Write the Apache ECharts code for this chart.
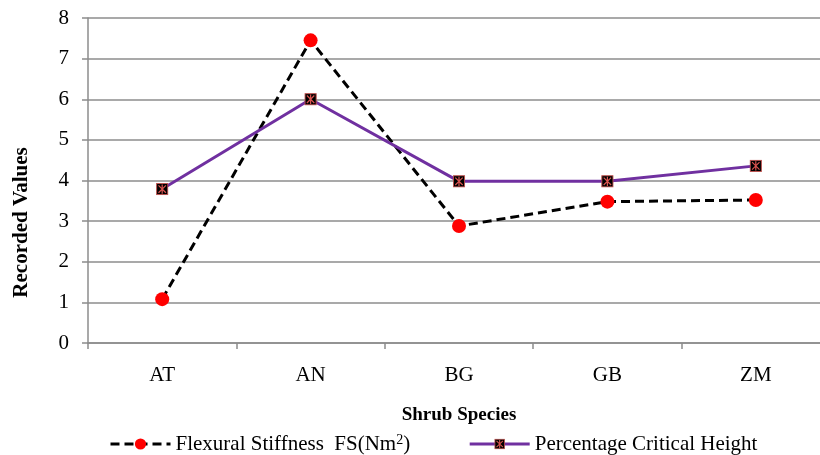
<!DOCTYPE html>
<html>
<head>
<meta charset="utf-8">
<script src="https://cdn.jsdelivr.net/npm/echarts@6/dist/echarts.min.js"></script>
<style>
  html, body { margin: 0; padding: 0; background: #fff; overflow: hidden; }
  /* plot runs past the right edge in the reference, so the canvas is a bit wider than the window */
  #chart { width: 832px; height: 455px; }
</style>
</head>
<body>
<div id="chart"></div>
<script>
// data
const species = ['AT', 'AN', 'BG', 'GB', 'ZM']
const flexuralStiffness = [1.08, 7.45, 2.88, 3.48, 3.52]
const criticalHeight = [3.79, 6.0, 3.98, 3.98, 4.36]
const yTicks = [0, 1, 2, 3, 4, 5, 6, 7, 8]

const font = 'Liberation Serif'

// black square with red cross
const crossSvg = '<svg xmlns="http://www.w3.org/2000/svg" width="14" height="14">' +
  '<rect x="1" y="1" width="12" height="12" fill="#000" stroke="#c0504d" stroke-width="1"/>' +
  '<path d="M3 3 L11 11 M11 3 L3 11 M7 2 L7 12" stroke="#d9534f" stroke-width="1.3"/></svg>'
const crossSymbol = 'image://data:image/svg+xml;charset=utf-8,' + encodeURIComponent(crossSvg)

const chart = echarts.init(document.getElementById('chart'))

chart.setOption({
  animation: false,
  textStyle: { fontFamily: font },
  grid: {
    left: 88,
    right: 2,
    top: 18,
    bottom: 112
  },
  legend: {
    top: 428,
    left: 104,
    itemWidth: 60,
    itemHeight: 14,
    itemGap: 58,
    textStyle: {
      fontFamily: font,
      fontSize: 21,
      color: '#000',
      rich: {
        t: { fontFamily: font, fontSize: 21, color: '#000' },
        sup: { fontFamily: font, fontSize: 14, color: '#000', verticalAlign: 'top', padding: [0, 0, 8, 0] }
      }
    },
    formatter: function (name) {
      if (name.indexOf('Flexural') === 0) {
        return '{t|Flexural Stiffness  FS(Nm}{sup|2}{t|)}'
      }
      return '{t|' + name + '}'
    },
    data: [
      { name: 'Flexural Stiffness  FS(Nm2)', lineStyle: { width: 3, type: [9, 5] } },
      { name: 'Percentage Critical Height', lineStyle: { width: 3 } }
    ]
  },
  xAxis: {
    type: 'category',
    data: species,
    name: 'Shrub Species',
    nameLocation: 'middle',
    nameGap: 63,
    nameTextStyle: { fontFamily: font, fontSize: 19, fontWeight: 'bold', color: '#000' },
    axisLine: { lineStyle: { color: '#8c8c8c', width: 1.5 } },
    axisTick: { show: true, length: 6, interval: 0, lineStyle: { color: '#8c8c8c', width: 1.5 } },
    axisLabel: { fontFamily: font, fontSize: 21, color: '#000', margin: 22 }
  },
  yAxis: {
    type: 'value',
    min: yTicks[0],
    max: yTicks[yTicks.length - 1],
    interval: 1,
    name: 'Recorded Values',
    nameLocation: 'middle',
    nameGap: 56,
    nameTextStyle: { fontFamily: font, fontSize: 21, fontWeight: 'bold', color: '#000', padding: [0, 84, 0, 0] },
    axisLine: { show: true, lineStyle: { color: '#8c8c8c', width: 1.5 } },
    axisTick: { show: true, length: 6, lineStyle: { color: '#8c8c8c', width: 1.5 } },
    axisLabel: { fontFamily: font, fontSize: 21, color: '#000', margin: 19 },
    splitLine: { lineStyle: { color: '#8c8c8c', width: 1.5 } }
  },
  series: [
    {
      name: 'Flexural Stiffness  FS(Nm2)',
      type: 'line',
      data: flexuralStiffness,
      symbol: 'circle',
      symbolSize: 14,
      itemStyle: { color: '#ff0000' },
      lineStyle: { color: '#000', width: 3, type: [9, 5] },
      z: 2
    },
    {
      name: 'Percentage Critical Height',
      type: 'line',
      data: criticalHeight,
      symbol: crossSymbol,
      symbolSize: 13,
      itemStyle: { color: '#7030a0' },
      lineStyle: { color: '#7030a0', width: 3 },
      z: 3
    }
  ]
})
</script>
</body>
</html>
